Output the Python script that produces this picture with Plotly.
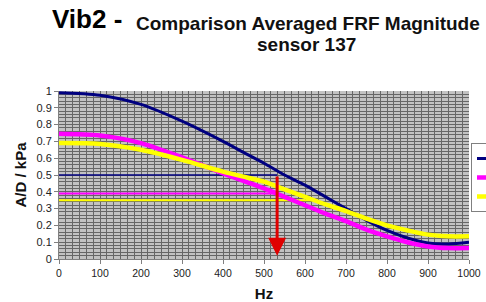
import plotly.graph_objects as go

# ---- data ----
hz = [0, 100, 200, 300, 400, 450, 500, 550, 600, 650, 700, 750, 800, 850, 900, 950, 1000]
navy_vals = [0.99, 0.975, 0.92, 0.82, 0.70, 0.635, 0.57, 0.50, 0.44, 0.37, 0.30, 0.23, 0.17, 0.125, 0.095, 0.09, 0.10]
magenta_vals = [0.745, 0.735, 0.69, 0.605, 0.51, 0.465, 0.42, 0.37, 0.32, 0.27, 0.225, 0.175, 0.135, 0.10, 0.075, 0.065, 0.065]
yellow_vals = [0.69, 0.685, 0.65, 0.59, 0.52, 0.49, 0.46, 0.415, 0.37, 0.325, 0.285, 0.24, 0.20, 0.17, 0.145, 0.135, 0.135]

series_names = ["Run 1", "Run 2", "Run 3"]
series_colors = ["#000080", "#ff00ff", "#ffff00"]

# half-magnitude reference levels and where they stop
ref_levels = [0.50, 0.39, 0.35]
ref_end_hz = [532, 530, 615]

arrow_hz = 532
arrow_top = 0.50
arrow_bottom = 0.02

x_ticks = [0, 100, 200, 300, 400, 500, 600, 700, 800, 900, 1000]
y_ticks = [0, 0.1, 0.2, 0.3, 0.4, 0.5, 0.6, 0.7, 0.8, 0.9, 1]

W, H = 486, 302
L, R, T, B = 59, 17, 91, 43
pw, ph = W - L - R, H - T - B


def px_to_paper(px, py):
    return (px - L) / pw, (H - B - py) / ph


fig = go.Figure()

ref_widths = [1.5, 2.2, 2]
for lvl, end, col, w in zip(ref_levels, ref_end_hz, series_colors, ref_widths):
    fig.add_trace(go.Scatter(x=[0, end], y=[lvl, lvl], mode="lines",
                             line=dict(color=col, width=w), showlegend=False,
                             hoverinfo="skip"))

curve_widths = [3, 4.5, 4.5]
for name, vals, col, w in zip(series_names, [navy_vals, magenta_vals, yellow_vals],
                              series_colors, curve_widths):
    fig.add_trace(go.Scatter(x=hz, y=vals, name=name, mode="lines",
                             line=dict(color=col, width=w, shape="spline", smoothing=0.8)))

fig.add_annotation(x=arrow_hz, y=arrow_bottom, ax=arrow_hz, ay=arrow_top,
                   xref="x", yref="y", axref="x", ayref="y", showarrow=True,
                   arrowhead=2, arrowsize=1.2, arrowwidth=3, arrowcolor="#e00000", text="")

fx, fy = px_to_paper(87, 36)
fig.add_annotation(x=fx, y=fy, xref="paper", yref="paper", text="<b>Vib2 -</b>",
                   showarrow=False, xanchor="center", yanchor="bottom",
                   font=dict(family="Liberation Sans, Arial", size=26, color="#000"))
fx, fy = px_to_paper(308, 36)
fig.add_annotation(x=fx, y=fy, xref="paper", yref="paper",
                   text="<b>Comparison Averaged FRF Magnitude</b>", showarrow=False,
                   xanchor="center", yanchor="bottom",
                   font=dict(family="Liberation Sans, Arial", size=19, color="#111"))
fx, fy = px_to_paper(306, 57)
fig.add_annotation(x=fx, y=fy, xref="paper", yref="paper",
                   text="<b>sensor 137</b>", showarrow=False,
                   xanchor="center", yanchor="bottom",
                   font=dict(family="Liberation Sans, Arial", size=19, color="#111"))

grid_col = "#666666"
fig.update_layout(
    width=W, height=H,
    margin=dict(l=L, r=R, t=T, b=B, autoexpand=False),
    paper_bgcolor="white",
    plot_bgcolor="#c2c2c2",
    font=dict(family="Liberation Sans, Arial", color="#222"),
    showlegend=True,
    legend=dict(x=(471 - L) / pw, y=(H - B - 143) / ph, xanchor="left", yanchor="top",
                bgcolor="white", bordercolor="#808080", borderwidth=1,
                font=dict(size=7), tracegroupgap=0, itemwidth=30),
    xaxis=dict(range=[0, 1000], tickvals=x_ticks, ticktext=[str(v) for v in x_ticks],
               showgrid=True, gridcolor=grid_col, gridwidth=1,
               minor=dict(dtick=100 / 6, showgrid=True, gridcolor=grid_col, gridwidth=1),
               showline=True, linecolor="#808080", linewidth=1,
               ticks="outside", ticklen=4, tickcolor="#808080",
               tickfont=dict(size=10.5, color="#222"), zeroline=False,
               title=dict(text="<b>Hz</b>", font=dict(size=15, color="#111"), standoff=12)),
    yaxis=dict(range=[0, 1], tickvals=y_ticks, ticktext=[("%g" % v) for v in y_ticks],
               showgrid=True, gridcolor=grid_col, gridwidth=1,
               minor=dict(dtick=0.02, showgrid=True, gridcolor=grid_col, gridwidth=1),
               showline=True, linecolor="#808080", linewidth=1,
               ticks="outside", ticklen=4, tickcolor="#808080",
               tickfont=dict(size=11, color="#222"), zeroline=False,
               title=dict(text="<b>A/D / kPa</b>", font=dict(size=15, color="#111"), standoff=6)),
)

fig.write_html("out.html", config={"displayModeBar": False},
               post_script="document.body.style.margin='0';")
